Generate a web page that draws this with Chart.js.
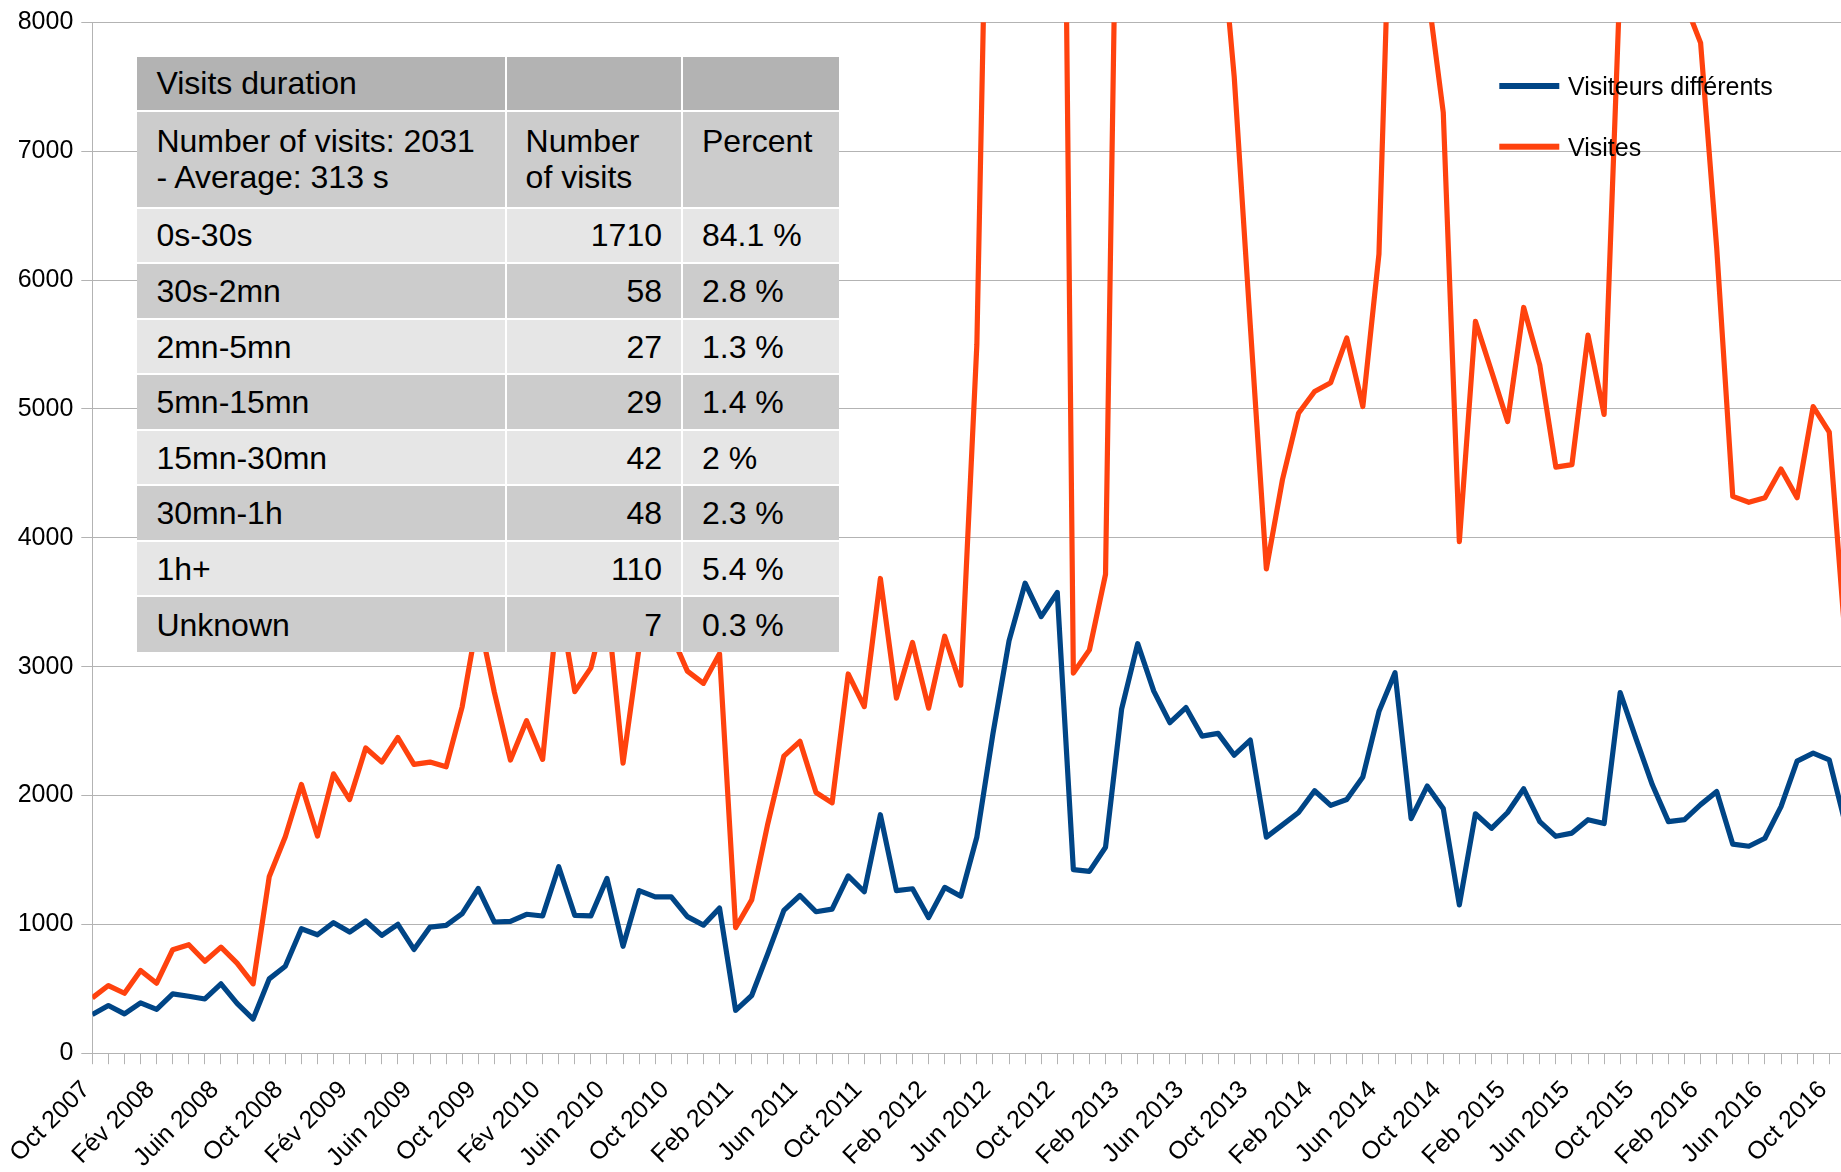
<!DOCTYPE html>
<html>
<head>
<meta charset="utf-8">
<script src="https://cdn.jsdelivr.net/npm/chart.js@4.4.1/dist/chart.umd.min.js"></script>
<style>
  html, body { margin: 0; padding: 0; background: #ffffff; }
  #wrap { position: relative; width: 1841px; height: 1172px; overflow: hidden; background: #ffffff; }
  #c { position: absolute; left: 0; top: 0; }
  #tbl { position: absolute; background: #ffffff; font-family: 'Liberation Sans', Arial, sans-serif; font-size: 32px; color: #000; }
  .cell { position: absolute; box-sizing: border-box; display: flex; padding: 0 19px; line-height: 36px; white-space: nowrap; }
</style>
</head>
<body>
<div id="wrap">
  <canvas id="c" width="1841" height="1172"></canvas>
  <div id="tbl"></div>
</div>
<script>
// ---------- data ----------
const tickLabels = ['Oct 2007','Fév 2008','Juin 2008','Oct 2008','Fév 2009','Juin 2009','Oct 2009','Fév 2010','Juin 2010','Oct 2010',
  'Feb 2011','Jun 2011','Oct 2011','Feb 2012','Jun 2012','Oct 2012','Feb 2013','Jun 2013','Oct 2013','Feb 2014',
  'Jun 2014','Oct 2014','Feb 2015','Jun 2015','Oct 2015','Feb 2016','Jun 2016','Oct 2016'];
const tickEvery = 4; // one label every 4 monthly categories

const seriesNames = ['Visiteurs différents', 'Visites'];

// monthly values, Oct 2007 -> Nov 2016
const visiteurs = [300,370,305,390,340,460,442,421,538,387,
  265,577,675,966,919,1013,940,1026,914,1000,
  805,979,992,1083,1278,1018,1023,1078,1065,1447,
  1070,1065,1356,830,1262,1213,1213,1060,994,1126,
  333,448,773,1109,1224,1098,1118,1376,1253,1851,
  1261,1276,1052,1287,1218,1678,2480,3200,3647,3388,
  3575,1425,1411,1598,2670,3178,2810,2565,2682,2461,
  2482,2313,2430,1677,1772,1868,2037,1923,1969,2144,
  2651,2953,1821,2073,1898,1151,1858,1745,1868,2052,
  1797,1683,1708,1812,1782,2799,2436,2083,1797,1812,
  1929,2030,1622,1606,1668,1914,2267,2329,2276,1780];

const visites = [429,525,465,642,543,803,842,714,823,699,
  538,1369,1680,2086,1685,2168,1968,2369,2259,2450,
  2241,2259,2223,2690,3400,2800,2275,2580,2280,3540,
  2806,2990,3500,2250,3150,3400,3250,2965,2870,3100,
  974,1190,1780,2305,2420,2023,1943,2943,2690,3684,
  2756,3187,2678,3236,2856,5500,11750,13500,14500,14000,
  15000,2950,3130,3716,11800,13000,13500,12500,11000,10000,
  8970,7580,5650,3758,4450,4966,5135,5203,5550,5018,
  6200,10250,11000,8270,7300,3970,5679,5292,4902,5787,
  5341,4548,4567,5572,4957,8350,10500,11500,9500,8160,
  7840,6250,4321,4275,4311,4533,4311,5018,4819,3200];

const yTicks = [0,1000,2000,3000,4000,5000,6000,7000,8000];

// table
const tableTitle = 'Visits duration';
const tableHead = ['Number of visits: 2031<br>- Average: 313 s', 'Number<br>of visits', 'Percent'];
const durationRanges = ['0s-30s','30s-2mn','2mn-5mn','5mn-15mn','15mn-30mn','30mn-1h','1h+','Unknown'];
const durationCounts = [1710, 58, 27, 29, 42, 48, 110, 7];
const durationPercents = ['84.1 %','2.8 %','1.3 %','1.4 %','2 %','2.3 %','5.4 %','0.3 %'];

// ---------- styles ----------
const COLORS = ['#004586', '#ff420e'];
const GRID = '#b3b3b3';
const FONT = "'Liberation Sans', Arial, sans-serif";

// ---------- legend plugin ----------
const legendPlugin = {
  id: 'customLegend',
  afterDatasetsDraw(chart) {
    const ctx = chart.ctx;
    ctx.save();
    const items = [{ i: 0, cy: 86, base: 95 }, { i: 1, cy: 146.7, base: 155.7 }];
    ctx.font = '25px ' + FONT;
    ctx.textBaseline = 'alphabetic';
    ctx.textAlign = 'left';
    items.forEach(it => {
      ctx.fillStyle = COLORS[it.i];
      ctx.fillRect(1499.3, it.cy - 3, 60, 6);
      ctx.fillStyle = '#000';
      ctx.fillText(seriesNames[it.i], 1568, it.base);
    });
    ctx.restore();
  }
};

// ---------- chart ----------
const lastX = 108.73;
new Chart(document.getElementById('c').getContext('2d'), {
  type: 'line',
  data: {
    datasets: [
      { label: seriesNames[0], data: visiteurs.map((v, i) => ({ x: i, y: v })), borderColor: COLORS[0], backgroundColor: COLORS[0],
        borderWidth: 5.2, pointRadius: 0, tension: 0, borderJoinStyle: 'round', fill: false, order: 1 },
      { label: seriesNames[1], data: visites.map((v, i) => ({ x: i, y: v })), borderColor: COLORS[1], backgroundColor: COLORS[1],
        borderWidth: 5.2, pointRadius: 0, tension: 0, borderJoinStyle: 'round', fill: false, order: 0 }
    ]
  },
  options: {
    responsive: false,
    animation: false,
    devicePixelRatio: 1,
    layout: { padding: { top: 22.3, left: 0, right: 0, bottom: 0 } },
    plugins: { legend: { display: false }, tooltip: { enabled: false } },
    scales: {
      x: {
        type: 'linear', min: 0, max: lastX,
        grid: { drawOnChartArea: false, drawTicks: true, tickLength: 11, color: GRID, lineWidth: 1 },
        border: { color: GRID, width: 1 },
        ticks: {
          stepSize: 1, autoSkip: false, includeBounds: false, maxRotation: 45, minRotation: 45, padding: 11, labelOffset: -6,
          color: '#000', font: { family: FONT, size: 25 },
          callback: (v) => (v % tickEvery === 0 ? (tickLabels[v / tickEvery] || '') : '')
        },
        afterFit(s) { s.height = 118.8; s.paddingLeft = 0; s.paddingRight = 0; }
      },
      y: {
        min: yTicks[0], max: yTicks[yTicks.length - 1],
        grid: { color: GRID, tickLength: 11, lineWidth: 1 },
        border: { color: GRID, width: 1 },
        ticks: { stepSize: yTicks[1] - yTicks[0], padding: 8, color: '#000', font: { family: FONT, size: 25 },
          callback: (v) => String(v) },
        afterFit(s) { s.width = 92.3; s.paddingTop = 0; s.paddingBottom = 0; }
      }
    }
  },
  plugins: [legendPlugin]
});

// ---------- table overlay ----------
(function buildTable() {
  const colEdges = [137.4, 505.6, 682, 839.4];
  const rowEdges = [56.7, 111.3, 207.8, 263.2, 319, 374.5, 430, 485.5, 541, 596.5, 652];
  const tbl = document.getElementById('tbl');
  const L = colEdges[0], T = rowEdges[0];
  tbl.style.left = L + 'px';
  tbl.style.top = T + 'px';
  tbl.style.width = (colEdges[3] - L) + 'px';
  tbl.style.height = (rowEdges[rowEdges.length - 1] - T) + 'px';

  const rows = [];
  rows.push({ cells: [tableTitle, '', ''], bg: '#b3b3b3', top: false });
  rows.push({ cells: tableHead, bg: '#cccccc', top: true });
  durationRanges.forEach((r, k) => {
    rows.push({ cells: [r, String(durationCounts[k]), durationPercents[k]], bg: k % 2 === 0 ? '#e6e6e6' : '#cccccc', top: false });
  });

  rows.forEach((row, ri) => {
    const y0 = rowEdges[ri] + (ri > 0 ? 1 : 0);
    const y1 = rowEdges[ri + 1] - (ri < rows.length - 1 ? 1 : 0);
    row.cells.forEach((txt, ci) => {
      const x0 = colEdges[ci] + (ci > 0 ? 1 : 0);
      const x1 = colEdges[ci + 1] - (ci < 2 ? 1 : 0);
      const d = document.createElement('div');
      d.className = 'cell';
      d.style.left = (x0 - L) + 'px';
      d.style.top = (y0 - T) + 'px';
      d.style.width = (x1 - x0) + 'px';
      d.style.height = (y1 - y0) + 'px';
      d.style.background = row.bg;
      if (row.top) { d.style.alignItems = 'flex-start'; d.style.paddingTop = '10.5px'; }
      else { d.style.alignItems = 'center'; }
      if (ci === 1 && ri >= 2) d.style.justifyContent = 'flex-end';
      const span = document.createElement('span');
      span.innerHTML = txt;
      d.appendChild(span);
      tbl.appendChild(d);
    });
  });
})();
</script>
</body>
</html>
